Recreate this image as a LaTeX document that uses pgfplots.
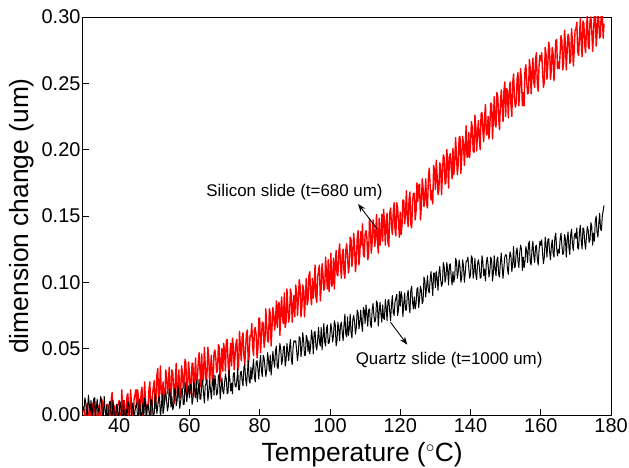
\documentclass[border=0pt]{standalone}
\usepackage{pgfplots}
\pgfplotsset{compat=1.18}
\usepackage{pgfplotstable}
\usepackage{fontspec}
\setmainfont{Liberation Sans}
\usetikzlibrary{arrows.meta}
\pgfplotstableread{
x red black
29.5 0.002 0.007
30.0 0.004 0.004
30.25 -0.003 0.013
30.5 -0.004 0.009
30.75 0.007 0.000
31.0 0.009 0.001
31.25 -0.006 0.015
31.5 0.000 0.008
31.75 0.005 0.003
32.0 -0.007 0.011
32.25 0.009 -0.001
32.5 0.008 0.004
32.75 -0.003 0.012
33.0 0.013 0.013
33.25 0.004 -0.002
33.5 -0.002 0.005
33.75 -0.006 0.012
34.0 0.003 0.002
34.25 0.007 0.003
34.5 -0.005 0.008
34.75 -0.001 0.014
35.0 0.012 0.010
35.25 0.010 -0.002
35.5 0.000 -0.001
35.75 -0.001 0.014
36.0 -0.007 0.004
36.25 -0.003 -0.001
36.5 0.008 0.007
36.75 0.008 -0.005
37.0 0.006 0.002
37.25 0.003 0.010
37.5 -0.002 0.010
37.75 0.012 -0.001
38.0 0.017 -0.001
38.25 -0.002 0.011
38.5 0.003 0.004
38.75 0.007 -0.005
39.0 -0.004 -0.004
39.25 -0.003 0.008
39.5 0.008 0.006
39.75 0.008 -0.004
40.0 0.011 0.001
40.25 -0.008 0.010
40.5 -0.007 0.007
40.75 0.019 -0.003
41.0 0.005 -0.001
41.25 -0.001 0.011
41.5 0.011 -0.004
41.75 -0.009 -0.005
42.0 0.001 0.004
42.25 0.015 -0.001
42.5 0.016 0.010
42.75 -0.003 0.009
43.0 -0.001 0.000
43.25 0.019 -0.007
43.5 0.009 -0.002
43.75 -0.009 0.009
44.0 -0.005 0.006
44.25 0.012 -0.005
44.5 0.015 0.003
44.75 0.019 0.007
45.0 0.006 0.009
45.25 0.019 -0.003
45.5 0.013 0.000
45.75 -0.008 0.012
46.0 0.000 0.005
46.25 0.017 -0.005
46.5 0.021 0.002
46.75 -0.001 0.009
47.0 0.005 -0.003
47.25 0.025 0.013
47.5 0.011 0.010
47.75 -0.003 -0.002
48.0 0.008 0.007
48.25 0.006 0.008
48.5 0.020 0.002
48.75 0.025 -0.004
49.0 0.002 0.012
49.25 0.000 0.011
49.5 0.016 0.005
49.75 0.021 -0.002
50.0 0.026 0.002
50.25 0.005 0.016
50.5 0.012 0.010
50.75 0.030 0.001
51.0 0.035 0.007
51.25 0.009 0.013
51.5 0.019 0.014
51.75 0.037 -0.002
52.0 0.016 0.006
52.25 0.014 0.016
52.5 0.025 0.001
52.75 0.008 0.005
53.0 0.011 0.014
53.25 0.034 0.018
53.5 0.029 0.011
53.75 0.016 0.003
54.0 0.023 0.007
54.25 0.036 0.020
54.5 0.018 0.016
54.75 0.012 0.006
55.0 0.034 0.014
55.25 0.032 0.004
55.5 0.020 0.006
55.75 0.009 0.019
56.0 0.027 0.020
56.25 0.039 0.007
56.5 0.016 0.011
56.75 0.015 0.022
57.0 0.034 0.014
57.25 0.013 0.005
57.5 0.013 0.010
57.75 0.037 0.019
58.0 0.032 0.020
58.25 0.020 0.008
58.5 0.026 0.008
58.75 0.042 0.025
59.0 0.039 0.018
59.25 0.014 0.010
59.5 0.022 0.017
59.75 0.040 0.022
60.0 0.032 0.013
60.25 0.016 0.023
60.5 0.023 0.023
60.75 0.039 0.008
61.0 0.039 0.012
61.25 0.014 0.025
61.5 0.028 0.020
61.75 0.043 0.013
62.0 0.022 0.026
62.25 0.026 0.010
62.5 0.039 0.017
62.75 0.047 0.027
63.0 0.034 0.012
63.25 0.021 0.012
63.5 0.046 0.023
63.75 0.025 0.026
64.0 0.027 0.017
64.25 0.051 0.009
64.5 0.037 0.022
64.75 0.025 0.024
65.0 0.031 0.027
65.25 0.051 0.011
65.5 0.043 0.017
65.75 0.024 0.026
66.0 0.036 0.019
66.25 0.045 0.012
66.5 0.026 0.025
66.75 0.024 0.027
67.0 0.047 0.015
67.25 0.049 0.030
67.5 0.043 0.023
67.75 0.032 0.015
68.0 0.034 0.017
68.25 0.053 0.029
68.5 0.051 0.031
68.75 0.025 0.012
69.0 0.038 0.020
69.25 0.050 0.028
69.5 0.033 0.018
69.75 0.054 0.016
70.0 0.048 0.024
70.25 0.033 0.031
70.5 0.056 0.027
70.75 0.057 0.016
71.0 0.040 0.017
71.25 0.029 0.034
71.5 0.045 0.027
71.75 0.054 0.018
72.0 0.037 0.024
72.25 0.058 0.016
72.5 0.052 0.031
72.75 0.034 0.032
73.0 0.045 0.022
73.25 0.054 0.021
73.5 0.057 0.026
73.75 0.034 0.035
74.0 0.037 0.019
74.25 0.063 0.019
74.5 0.052 0.032
74.75 0.041 0.033
75.0 0.058 0.026
75.25 0.062 0.022
75.5 0.045 0.036
75.75 0.038 0.038
76.0 0.051 0.027
76.25 0.062 0.022
76.5 0.064 0.032
76.75 0.037 0.041
77.0 0.045 0.026
77.25 0.060 0.024
77.5 0.059 0.036
77.75 0.069 0.027
78.0 0.051 0.035
78.25 0.045 0.042
78.5 0.064 0.028
78.75 0.066 0.025
79.0 0.060 0.040
79.25 0.043 0.041
79.5 0.050 0.034
79.75 0.073 0.027
80.0 0.073 0.039
80.25 0.047 0.045
80.5 0.059 0.033
80.75 0.070 0.029
81.0 0.069 0.045
81.25 0.051 0.043
81.5 0.057 0.036
81.75 0.080 0.029
82.0 0.067 0.034
82.25 0.056 0.047
82.5 0.055 0.041
82.75 0.080 0.033
83.0 0.077 0.045
83.25 0.052 0.030
83.5 0.066 0.038
83.75 0.081 0.048
84.0 0.076 0.041
84.25 0.064 0.036
84.5 0.071 0.049
84.75 0.086 0.052
85.0 0.066 0.036
85.25 0.083 0.035
85.5 0.085 0.046
85.75 0.060 0.054
86.0 0.079 0.049
86.25 0.089 0.038
86.5 0.072 0.042
86.75 0.069 0.051
87.0 0.092 0.052
87.25 0.066 0.037
87.5 0.070 0.041
87.75 0.095 0.054
88.0 0.082 0.047
88.25 0.070 0.041
88.5 0.075 0.051
88.75 0.095 0.057
89.0 0.091 0.042
89.25 0.070 0.038
89.5 0.081 0.051
89.75 0.090 0.056
90.0 0.074 0.055
90.25 0.098 0.056
90.5 0.092 0.049
90.75 0.075 0.041
91.0 0.087 0.047
91.25 0.102 0.059
91.5 0.097 0.058
91.75 0.074 0.044
92.0 0.082 0.050
92.25 0.098 0.062
92.5 0.094 0.056
92.75 0.074 0.045
93.0 0.089 0.045
93.25 0.103 0.060
93.5 0.083 0.058
93.75 0.086 0.048
94.0 0.105 0.056
94.25 0.108 0.046
94.5 0.090 0.052
94.75 0.083 0.064
95.0 0.103 0.058
95.25 0.088 0.046
95.5 0.096 0.062
95.75 0.113 0.063
96.0 0.089 0.052
96.25 0.085 0.049
96.5 0.104 0.057
96.75 0.109 0.066
97.0 0.113 0.055
97.25 0.086 0.052
97.5 0.096 0.066
97.75 0.114 0.049
98.0 0.106 0.058
98.25 0.094 0.069
98.5 0.096 0.055
98.75 0.119 0.052
99.0 0.107 0.065
99.25 0.095 0.068
99.5 0.117 0.054
99.75 0.093 0.054
100.0 0.104 0.060
100.25 0.122 0.069
100.5 0.097 0.064
100.75 0.099 0.055
101.0 0.118 0.060
101.25 0.095 0.071
101.5 0.113 0.068
101.75 0.124 0.052
102.0 0.106 0.056
102.25 0.105 0.070
102.5 0.122 0.065
102.75 0.129 0.056
103.0 0.112 0.068
103.25 0.103 0.070
103.5 0.121 0.062
103.75 0.125 0.056
104.0 0.107 0.068
104.25 0.103 0.076
104.5 0.124 0.061
104.75 0.129 0.059
105.0 0.120 0.074
105.25 0.107 0.060
105.5 0.113 0.065
105.75 0.134 0.076
106.0 0.132 0.062
106.25 0.112 0.058
106.5 0.120 0.072
106.75 0.137 0.075
107.0 0.128 0.070
107.25 0.108 0.061
107.5 0.116 0.066
107.75 0.133 0.079
108.0 0.139 0.077
108.25 0.113 0.065
108.5 0.122 0.070
108.75 0.138 0.079
109.0 0.128 0.069
109.25 0.144 0.063
109.5 0.121 0.081
109.75 0.119 0.079
110.0 0.136 0.069
110.25 0.139 0.083
110.5 0.134 0.076
110.75 0.117 0.067
111.0 0.121 0.079
111.25 0.148 0.080
111.5 0.142 0.069
111.75 0.122 0.066
112.0 0.130 0.079
112.25 0.147 0.084
112.5 0.142 0.075
112.75 0.127 0.070
113.0 0.135 0.072
113.25 0.151 0.086
113.5 0.131 0.084
113.75 0.122 0.067
114.0 0.148 0.078
114.25 0.128 0.085
114.5 0.136 0.076
114.75 0.151 0.070
115.0 0.131 0.083
115.25 0.155 0.073
115.5 0.146 0.072
115.75 0.128 0.087
116.0 0.144 0.081
116.25 0.152 0.071
116.5 0.130 0.086
116.75 0.127 0.087
117.0 0.152 0.078
117.25 0.156 0.071
117.5 0.143 0.083
117.75 0.136 0.090
118.0 0.152 0.077
118.25 0.160 0.075
118.5 0.140 0.085
118.75 0.135 0.088
119.0 0.160 0.091
119.25 0.156 0.075
119.5 0.145 0.079
119.75 0.134 0.093
120.0 0.153 0.082
120.25 0.136 0.093
120.5 0.143 0.089
120.75 0.162 0.074
121.0 0.162 0.084
121.25 0.144 0.092
121.5 0.152 0.079
121.75 0.169 0.079
122.0 0.149 0.090
122.25 0.142 0.094
122.5 0.162 0.083
122.75 0.168 0.077
123.0 0.144 0.094
123.25 0.141 0.097
123.5 0.161 0.085
123.75 0.167 0.080
124.0 0.167 0.089
124.25 0.147 0.080
124.5 0.154 0.084
124.75 0.175 0.095
125.0 0.161 0.096
125.25 0.173 0.081
125.5 0.174 0.088
125.75 0.147 0.097
126.0 0.157 0.094
126.25 0.178 0.084
126.5 0.171 0.086
126.75 0.157 0.104
127.0 0.164 0.101
127.25 0.178 0.089
127.5 0.159 0.097
127.75 0.156 0.105
128.0 0.178 0.094
128.25 0.186 0.092
128.5 0.173 0.102
128.75 0.162 0.108
129.0 0.169 0.099
129.25 0.159 0.090
129.5 0.188 0.107
129.75 0.184 0.107
130.0 0.170 0.096
130.25 0.192 0.108
130.5 0.180 0.103
130.75 0.166 0.094
131.0 0.170 0.107
131.25 0.190 0.112
131.5 0.188 0.102
131.75 0.166 0.097
132.0 0.181 0.099
132.25 0.196 0.115
132.5 0.194 0.112
132.75 0.174 0.100
133.0 0.175 0.104
133.25 0.200 0.115
133.5 0.190 0.109
133.75 0.171 0.098
134.0 0.195 0.113
134.25 0.197 0.114
134.5 0.186 0.104
134.75 0.178 0.098
135.0 0.201 0.108
135.25 0.181 0.100
135.5 0.190 0.104
135.75 0.209 0.118
136.0 0.196 0.116
136.25 0.181 0.103
136.5 0.189 0.108
136.75 0.209 0.117
137.0 0.210 0.112
137.25 0.182 0.100
137.5 0.194 0.104
137.75 0.210 0.117
138.0 0.205 0.112
138.25 0.188 0.100
138.5 0.202 0.107
138.75 0.218 0.116
139.0 0.194 0.116
139.25 0.195 0.119
139.5 0.213 0.111
139.75 0.194 0.103
140.0 0.204 0.106
140.25 0.221 0.120
140.5 0.217 0.118
140.75 0.199 0.103
141.0 0.198 0.108
141.25 0.226 0.118
141.5 0.217 0.106
141.75 0.199 0.102
142.0 0.213 0.114
142.25 0.222 0.117
142.5 0.208 0.112
142.75 0.200 0.103
143.0 0.227 0.104
143.25 0.228 0.120
143.5 0.215 0.116
143.75 0.206 0.105
144.0 0.224 0.110
144.25 0.234 0.101
144.5 0.211 0.115
144.75 0.212 0.119
145.0 0.225 0.113
145.25 0.208 0.104
145.5 0.218 0.108
145.75 0.235 0.119
146.0 0.234 0.117
146.25 0.208 0.101
146.5 0.223 0.107
146.75 0.240 0.120
147.0 0.219 0.110
147.25 0.217 0.105
147.5 0.243 0.117
147.75 0.240 0.119
148.0 0.224 0.106
148.25 0.215 0.104
148.5 0.234 0.115
148.75 0.245 0.122
149.0 0.232 0.112
149.25 0.221 0.103
149.5 0.244 0.111
149.75 0.251 0.119
150.0 0.225 0.121
150.25 0.246 0.120
150.5 0.244 0.110
150.75 0.224 0.106
151.0 0.242 0.117
151.25 0.251 0.123
151.5 0.234 0.120
151.75 0.225 0.108
152.0 0.250 0.114
152.25 0.257 0.127
152.5 0.239 0.111
152.75 0.232 0.112
153.0 0.235 0.123
153.25 0.253 0.126
153.5 0.258 0.116
153.75 0.233 0.111
154.0 0.245 0.122
154.25 0.261 0.128
154.5 0.253 0.125
154.75 0.233 0.109
155.0 0.243 0.119
155.25 0.233 0.111
155.5 0.260 0.116
155.75 0.264 0.127
156.0 0.251 0.123
156.25 0.242 0.115
156.5 0.243 0.129
156.75 0.268 0.131
157.0 0.261 0.115
157.25 0.242 0.113
157.5 0.257 0.125
157.75 0.269 0.131
158.0 0.251 0.120
158.25 0.247 0.115
158.5 0.268 0.127
158.75 0.273 0.128
159.0 0.250 0.118
159.25 0.244 0.113
159.5 0.263 0.124
159.75 0.271 0.131
160.0 0.267 0.128
160.25 0.273 0.132
160.5 0.259 0.122
160.75 0.247 0.114
161.0 0.251 0.119
161.25 0.277 0.134
161.5 0.272 0.128
161.75 0.253 0.119
162.0 0.264 0.132
162.25 0.281 0.133
162.5 0.276 0.123
162.75 0.253 0.117
163.0 0.260 0.127
163.25 0.277 0.132
163.5 0.272 0.122
163.75 0.252 0.119
164.0 0.265 0.134
164.25 0.282 0.137
164.5 0.283 0.126
164.75 0.261 0.120
165.0 0.266 0.125
165.25 0.261 0.122
165.5 0.273 0.133
165.75 0.286 0.137
166.0 0.282 0.128
166.25 0.260 0.121
166.5 0.265 0.122
166.75 0.290 0.136
167.0 0.280 0.133
167.25 0.260 0.119
167.5 0.274 0.132
167.75 0.287 0.138
168.0 0.284 0.126
168.25 0.265 0.121
168.5 0.267 0.136
168.75 0.291 0.140
169.0 0.282 0.129
169.25 0.263 0.124
169.5 0.274 0.134
169.75 0.290 0.137
170.0 0.291 0.133
170.25 0.296 0.141
170.5 0.274 0.126
170.75 0.271 0.125
171.0 0.285 0.138
171.25 0.299 0.143
171.5 0.281 0.131
171.75 0.270 0.125
172.0 0.297 0.141
172.25 0.295 0.140
172.5 0.279 0.130
172.75 0.273 0.125
173.0 0.292 0.135
173.25 0.302 0.142
173.5 0.278 0.139
173.75 0.276 0.130
174.0 0.297 0.132
174.25 0.300 0.145
174.5 0.290 0.142
174.75 0.274 0.128
175.0 0.287 0.137
175.25 0.304 0.131
175.5 0.303 0.146
175.75 0.278 0.150
176.0 0.287 0.138
176.25 0.305 0.134
176.5 0.297 0.144
176.75 0.284 0.152
177.0 0.286 0.140
177.25 0.310 0.139
177.5 0.302 0.150
177.75 0.284 0.154
178.0 0.295 0.158
}\dilation
\begin{document}
\begin{tikzpicture}
\begin{axis}[
  scale only axis, width=531pt, height=400pt,
  xmin=29.6, xmax=180, ymin=0, ymax=0.30,
  xtick={40,60,80,100,120,140,160,180},
  ytick={0,0.05,0.10,0.15,0.20,0.25,0.30},
  tick align=inside, xtick pos=left, ytick pos=left,
  major tick length=6pt,
  tick style={line width=0.8pt, black},
  axis line style={line width=0.8pt},
  /pgf/number format/assume math mode=true,
  ticklabel style={font=\fontsize{20}{20}\selectfont},
  yticklabel style={/pgf/number format/.cd, fixed, fixed zerofill, precision=2, /tikz/.cd, inner sep=2pt},
  label style={font=\fontsize{26.5}{26.5}\selectfont},
  xlabel={Temperature ($^\circ$C)},
  ylabel={dimension change (um)},
  xlabel style={at={(axis description cs:0.529,-0.1175)}, anchor=base},
  ylabel style={at={(axis description cs:-0.1149,0.5)}, anchor=center},
]
\addplot[color={rgb,255:red,255;green,0;blue,0}, line width=1.4pt, line join=round] table[x=x, y=red] {\dilation};
\addplot[black, line width=1.0pt, line join=round] table[x=x, y=black] {\dilation};
\node[font=\fontsize{17}{17}\selectfont, anchor=base] at (axis cs:89.9,0.165) {Silicon slide (t=680 um)};
\draw[-{Stealth[length=8pt,width=6pt]}, line width=0.9pt] (axis cs:113.5,0.140) -- (axis cs:108.0,0.159);
\node[font=\fontsize{17}{17}\selectfont, anchor=base west, inner sep=0pt] at (axis cs:107.3,0.038) {Quartz slide (t=1000 um)};
\draw[-{Stealth[length=8pt,width=6pt]}, line width=0.9pt] (axis cs:117.2,0.070) -- (axis cs:122.0,0.053);
\end{axis}
\pgfresetboundingbox
\path[use as bounding box] (-83pt,-53pt) rectangle (549pt,417pt);
\end{tikzpicture}
\end{document}
